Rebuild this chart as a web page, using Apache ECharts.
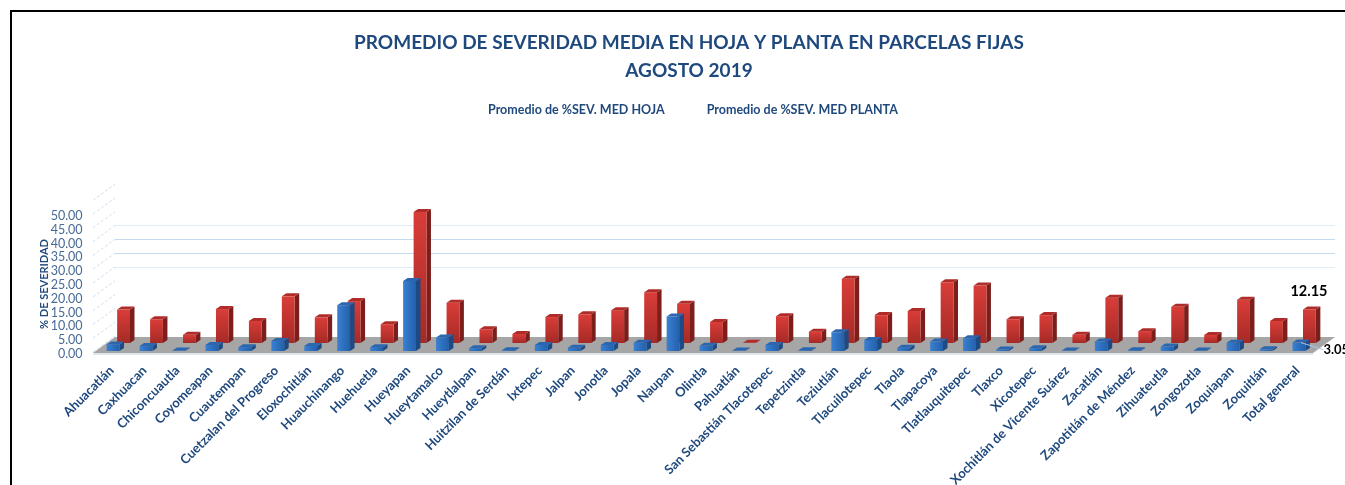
<!DOCTYPE html>
<html>
<head>
<meta charset="utf-8">
<style>
  html, body { margin: 0; padding: 0; background: #fff; }
  #main { width: 1345px; height: 485px; }
</style>
<script src="https://cdn.jsdelivr.net/npm/echarts@6/dist/echarts.min.js"></script>
</head>
<body>
<div id="main"></div>
<script>
var municipios = ['Ahuacatlán', 'Caxhuacan', 'Chiconcuautla', 'Coyomeapan', 'Cuautempan', 'Cuetzalan del Progreso',
  'Eloxochitlán', 'Huauchinango', 'Huehuetla', 'Hueyapan', 'Hueytamalco', 'Hueytlalpan', 'Huitzilan de Serdán',
  'Ixtepec', 'Jalpan', 'Jonotla', 'Jopala', 'Naupan', 'Olintla', 'Pahuatlán', 'San Sebastián Tlacotepec',
  'Tepetzintla', 'Teziutlán', 'Tlacuilotepec', 'Tlaola', 'Tlapacoya', 'Tlatlauquitepec', 'Tlaxco', 'Xicotepec',
  'Xochitlán de Vicente Suárez', 'Zacatlán', 'Zapotitlán de Méndez', 'Zihuateutla', 'Zongozotla', 'Zoquiapan',
  'Zoquitlán', 'Total general'];
var sevHoja = [2.4, 1.8, 0.2, 2.2, 1.4, 3.6, 1.8, 16.6, 1.4, 25.4, 4.9, 1.0, 0.3, 2.2, 1.2, 2.2, 3.0, 12.5, 1.9,
  0.2, 2.2, 0.3, 6.8, 4.0, 1.2, 3.4, 4.6, 0.5, 1.0, 0.2, 3.4, 0.3, 1.6, 0.2, 3.0, 0.6, 3.05];
var sevPlanta = [12.1, 8.6, 3.0, 12.3, 8.0, 16.9, 9.3, 15.2, 6.8, 47.5, 14.6, 5.0, 3.3, 9.4, 10.4, 11.9, 18.4, 14.2,
  7.6, 0.1, 9.7, 4.1, 23.3, 10.1, 11.6, 22.0, 20.8, 8.6, 10.1, 3.0, 16.4, 4.3, 13.1, 2.9, 15.7, 8.0, 12.15];
var ticksPared = [25, 30, 35, 40];
var ticksDiagonal = [0, 5, 10, 15, 20, 25, 30, 35, 40, 45, 50, 55];

var azul = '#1f497d';
var FONDO_X = 22, FONDO_Y = 16;

function pares(lista) {
  return lista.map(function (v, i) { return [i, v]; });
}

// caja 3d: frente, lado y tapa
function caja(api, params, dx, dy, colores) {
  var p = api.coord([api.value(0), api.value(1)]);
  var base = api.coord([api.value(0), 0]);
  var w = api.size([1, 0])[0] * 0.39;
  var x = p[0] - w / 2 + dx, yt = p[1] + dy, yb = base[1] + dy;
  var sx = 4.5, sy = 3;
  return {
    type: 'group',
    children: [
      { type: 'polygon', shape: { points: [[x + w, yt], [x + w + sx, yt - sy], [x + w + sx, yb - sy], [x + w, yb]] },
        style: { fill: colores.lado } },
      { type: 'rect', shape: { x: x, y: yt, width: w, height: yb - yt },
        style: { fill: { type: 'linear', x: 0, y: 0, x2: colores.x2, y2: colores.y2,
          colorStops: [{ offset: 0, color: colores.a }, { offset: 1, color: colores.b }] } } },
      { type: 'polygon', shape: { points: [[x, yt], [x + w, yt], [x + w + sx, yt - sy], [x + sx, yt - sy]] },
        style: { fill: colores.tapa } }
    ]
  };
}

var rojo = { a: '#d93d38', b: '#a52a26', x2: 0, y2: 1, lado: '#7c1f1c', tapa: '#b02c28' };
var celeste = { a: '#3a80d2', b: '#2260ab', x2: 1, y2: 0, lado: '#1c4a84', tapa: '#2b66ae' };

var option = {
  animation: false,
  backgroundColor: '#fff',
  textStyle: { fontFamily: 'Lato' },
  title: {
    text: 'PROMEDIO DE SEVERIDAD MEDIA EN HOJA Y PLANTA EN PARCELAS FIJAS\nAGOSTO 2019',
    left: 684, top: 24, textAlign: 'center',
    textStyle: { color: azul, fontFamily: 'Lato', fontWeight: 'bold', fontSize: 19, lineHeight: 28 }
  },
  legend: {
    data: ['Promedio de %SEV. MED HOJA', 'Promedio de %SEV. MED PLANTA'],
    left: 478, top: 98, itemWidth: 0, itemHeight: 0, itemGap: 37, icon: 'rect',
    textStyle: { color: azul, fontFamily: 'Lato', fontWeight: 'bold', fontSize: 12.5 }
  },
  graphic: [{
    type: 'rect', silent: true, z: 0,
    shape: { x: 11, y: 11, width: 1400, height: 500 },
    style: { fill: 'none', stroke: '#000', lineWidth: 2 }
  }],
  grid: { left: 96.6, width: 1218.8, top: 215, height: 138, outerBoundsMode: 'none' },
  xAxis: {
    type: 'category', data: municipios,
    axisLine: { show: false }, axisTick: { show: false },
    axisLabel: { interval: 0, rotate: 45, margin: 14, padding: [0, 2, 0, 0], color: azul, fontWeight: 'bold', fontSize: 13, fontFamily: 'Lato' }
  },
  yAxis: {
    type: 'value', min: 0, max: 50, interval: 5,
    name: '% DE SEVERIDAD', nameLocation: 'middle', nameGap: 47, nameMoveOverlap: false,
    nameTextStyle: { color: azul, fontWeight: 'bold', fontSize: 11, fontFamily: 'Lato' },
    axisLine: { show: false }, axisTick: { show: false }, splitLine: { show: false },
    axisLabel: { margin: 14, verticalAlign: 'top', lineHeight: 2, color: '#476a96', fontSize: 12.5, fontFamily: 'Lato',
      formatter: function (v) { return v.toFixed(2); } }
  },
  series: [
    { // diagonales punteadas de la pared
      type: 'custom', silent: true, data: pares(ticksDiagonal), clip: false, encode: { x: 0, y: 1 },
      renderItem: function (params, api) {
        var p = api.coord([0, api.value(1)]);
        var x0 = params.coordSys.x - 3.6;
        return { type: 'line', shape: { x1: x0, y1: p[1] - 1, x2: x0 + FONDO_X, y2: p[1] - 1 - FONDO_Y },
          style: { stroke: '#cfe0f2', lineWidth: 1, lineDash: [3, 2] } };
      }
    },
    { // lineas de la pared del fondo
      type: 'custom', silent: true, data: pares(ticksPared), clip: false, encode: { x: 0, y: 1 },
      renderItem: function (params, api) {
        var v = api.value(1);
        var p = api.coord([0, v]);
        var x0 = params.coordSys.x - 3.6 + FONDO_X;
        var y = Math.round(p[1] - FONDO_Y - 1.4) + 0.5;
        return { type: 'line', shape: { x1: x0, y1: y, x2: x0 + 1220, y2: y },
          style: { stroke: (v === 30 || v === 35) ? '#c5d9f1' : '#deeef8', lineWidth: 1 } };
      }
    },
    { // piso
      type: 'custom', silent: true, data: [[0, 0]], clip: false, encode: { x: 0, y: 1 },
      renderItem: function (params, api) {
        var y0 = api.coord([0, 0])[1];
        var x0 = params.coordSys.x - 3.6;
        var x1 = x0 + 1220;
        return { type: 'group', children: [
          { type: 'polygon', shape: { points: [[x0, y0], [x0 + FONDO_X, y0 - FONDO_Y], [x1 + FONDO_X, y0 - FONDO_Y], [x1, y0]] },
            style: { fill: '#a6a6a6' } },
          { type: 'line', shape: { x1: x0, y1: y0 + 1, x2: x1, y2: y0 + 1 }, style: { stroke: '#d3dde8', lineWidth: 1.5 } }
        ] };
      }
    },
    {
      name: 'Promedio de %SEV. MED PLANTA', type: 'custom', clip: false,
      itemStyle: { color: '#c0302c' },
      encode: { x: 0, y: 1 },
      data: pares(sevPlanta),
      renderItem: function (params, api) {
        var g = caja(api, params, 10.5, -10, rojo);
        if (params.dataIndex === sevPlanta.length - 1) {
          var p = api.coord([api.value(0), api.value(1)]);
          g.children.push({ type: 'text', style: { text: api.value(1).toFixed(2), x: p[0] + 10, y: p[1] - 28,
            textAlign: 'center', textVerticalAlign: 'middle', fill: '#000', fontFamily: 'Lato', fontWeight: 'bold', fontSize: 14.5 } });
        }
        return g;
      }
    },
    {
      name: 'Promedio de %SEV. MED HOJA', type: 'custom', clip: false,
      itemStyle: { color: '#2b66ae' },
      encode: { x: 0, y: 1 },
      data: pares(sevHoja),
      renderItem: function (params, api) {
        var g = caja(api, params, 0, -2, celeste);
        if (params.dataIndex === sevHoja.length - 1) {
          var p = api.coord([api.value(0), api.value(1)]);
          g.children.push({ type: 'line', shape: { x1: p[0] + 2, y1: p[1] - 2, x2: p[0] + 24, y2: p[1] + 5 },
            style: { stroke: '#a9c8e6', lineWidth: 1 } });
          g.children.push({ type: 'text', style: { text: api.value(1).toFixed(2), x: p[0] + 24.5, y: p[1] + 5,
            textAlign: 'left', textVerticalAlign: 'middle', fill: '#000', fontFamily: 'Lato', fontWeight: 'bold', fontSize: 13 } });
        }
        return g;
      }
    }
  ]
};

var myChart = echarts.init(document.getElementById('main'));
myChart.setOption(option);
</script>
</body>
</html>
